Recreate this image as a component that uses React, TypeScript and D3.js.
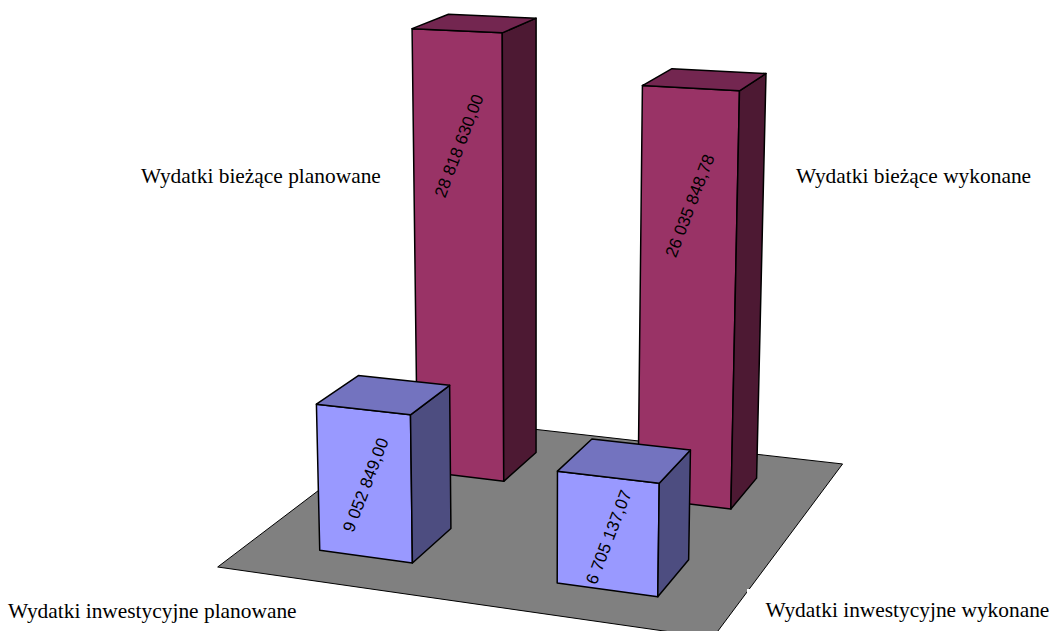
import React from "react";
import * as d3 from "d3";

// ---- data ----
const columns = ["planowane", "wykonane"];
const series = ["inwestycyjne", "bieżące"]; // front row, back row
const investValues = [9052849.0, 6705137.07];
const currentValues = [28818630.0, 26035848.78];
const seriesValues = [investValues, currentValues];

// ---- styles and layout (not data) ----
const W = 1051;
const H = 631;
const palette = [
  { front: "#9999FF", top: "#7373BF", side: "#4D4D80" },
  { front: "#993366", top: "#732650", side: "#4D1933" },
];
// where along the front face (share of bar height) each value label sits
const labelLevels = [
  [0.49, 0.47],
  [0.75, 0.725],
];
const labelShift = 1.5;
const categoryLabelPos = [
  [
    { x: 8, y: 618 },
    { x: 765.5, y: 617 },
  ],
  [
    { x: 141, y: 183 },
    { x: 796, y: 183 },
  ],
];

// perspective camera: world (x, z on the unit floor, t = lift) -> screen
const cam = {
  a: 437.5, b: 276.6, c: 217.7,
  d: 19.5, e: -73.4, f: 567,
  g: -0.0807, h: 0.1866,
  vx: 535, vy: 10000,
};
const project = (x: number, z: number, t = 0): [number, number] => {
  const w = cam.g * x + cam.h * z + 1 + t;
  return [
    (cam.a * x + cam.b * z + cam.c + cam.vx * t) / w,
    (cam.d * x + cam.e * z + cam.f + cam.vy * t) / w,
  ];
};

const xBand = d3.scaleBand<string>().domain(columns).range([0, 1]).paddingInner(0.6).paddingOuter(0.3);
const zBand = d3.scaleBand<string>().domain(series).range([0, 1]).paddingInner(0.6).paddingOuter(0.3);
const lift = d3.scaleLinear().domain([0, 30000000]).range([0, -0.0512]);

const pl = d3.formatLocale({
  decimal: ",",
  thousands: " ",
  grouping: [3],
  currency: ["", " zł"],
});
const fmt = pl.format(",.2f");

const poly = d3.line<[number, number]>().curve(d3.curveLinearClosed);

const floor: [number, number][] = [
  project(0, 0),
  project(1, 0),
  project(1, 1),
  project(0, 1),
];

export default function App() {
  const bars: React.ReactNode[] = [];
  const texts: React.ReactNode[] = [];
  // back row first, so the front row overlaps it
  [1, 0].forEach((s) => {
    columns.forEach((col, c) => {
      const value = seriesValues[s][c];
      const x0 = xBand(col)!;
      const x1 = x0 + xBand.bandwidth();
      const z0 = zBand(series[s])!;
      const z1 = z0 + zBand.bandwidth();
      const t = lift(value);
      const colors = palette[s];
      const common = { stroke: "#000", strokeWidth: 1.5, strokeLinejoin: "round" as const };
      bars.push(
        <g key={`${s}-${c}`}>
          <path d={poly([project(x0, z0), project(x1, z0), project(x1, z0, t), project(x0, z0, t)])!} fill={colors.front} {...common} />
          <path d={poly([project(x1, z0), project(x1, z1), project(x1, z1, t), project(x1, z0, t)])!} fill={colors.side} {...common} />
          <path d={poly([project(x0, z0, t), project(x1, z0, t), project(x1, z1, t), project(x0, z1, t)])!} fill={colors.top} {...common} />
        </g>
      );
      const [lx, ly] = project((x0 + x1) / 2, z0, t * labelLevels[s][c]);
      bars.push(
        <text
          key={`v-${s}-${c}`}
          transform={`translate(${lx + labelShift},${ly}) rotate(-69)`}
          textAnchor="middle"
          dominantBaseline="central"
          fontFamily="Liberation Sans, Arial, sans-serif"
          fontSize={17}
          fill="#000"
        >
          {fmt(value)}
        </text>
      );
      const p = categoryLabelPos[s][c];
      texts.push(
        <text
          key={`c-${s}-${c}`}
          x={p.x}
          y={p.y}
          fontFamily="Liberation Serif, Times New Roman, serif"
          fontSize={21.4}
          fill="#000"
        >
          {`Wydatki ${series[s]} ${col}`}
        </text>
      );
    });
  });

  return (
    <svg
      width={W}
      height={H}
      viewBox={`0 0 ${W} ${H}`}
      style={{ position: "absolute", left: 0, top: 0, display: "block", background: "#fff" }}
    >
      <path d={poly(floor)!} fill="#808080" stroke="#000" strokeWidth={1} />
      <rect x={747} y={589} width={304} height={42} fill="#fff" />
      {bars}
      {texts}
    </svg>
  );
}
